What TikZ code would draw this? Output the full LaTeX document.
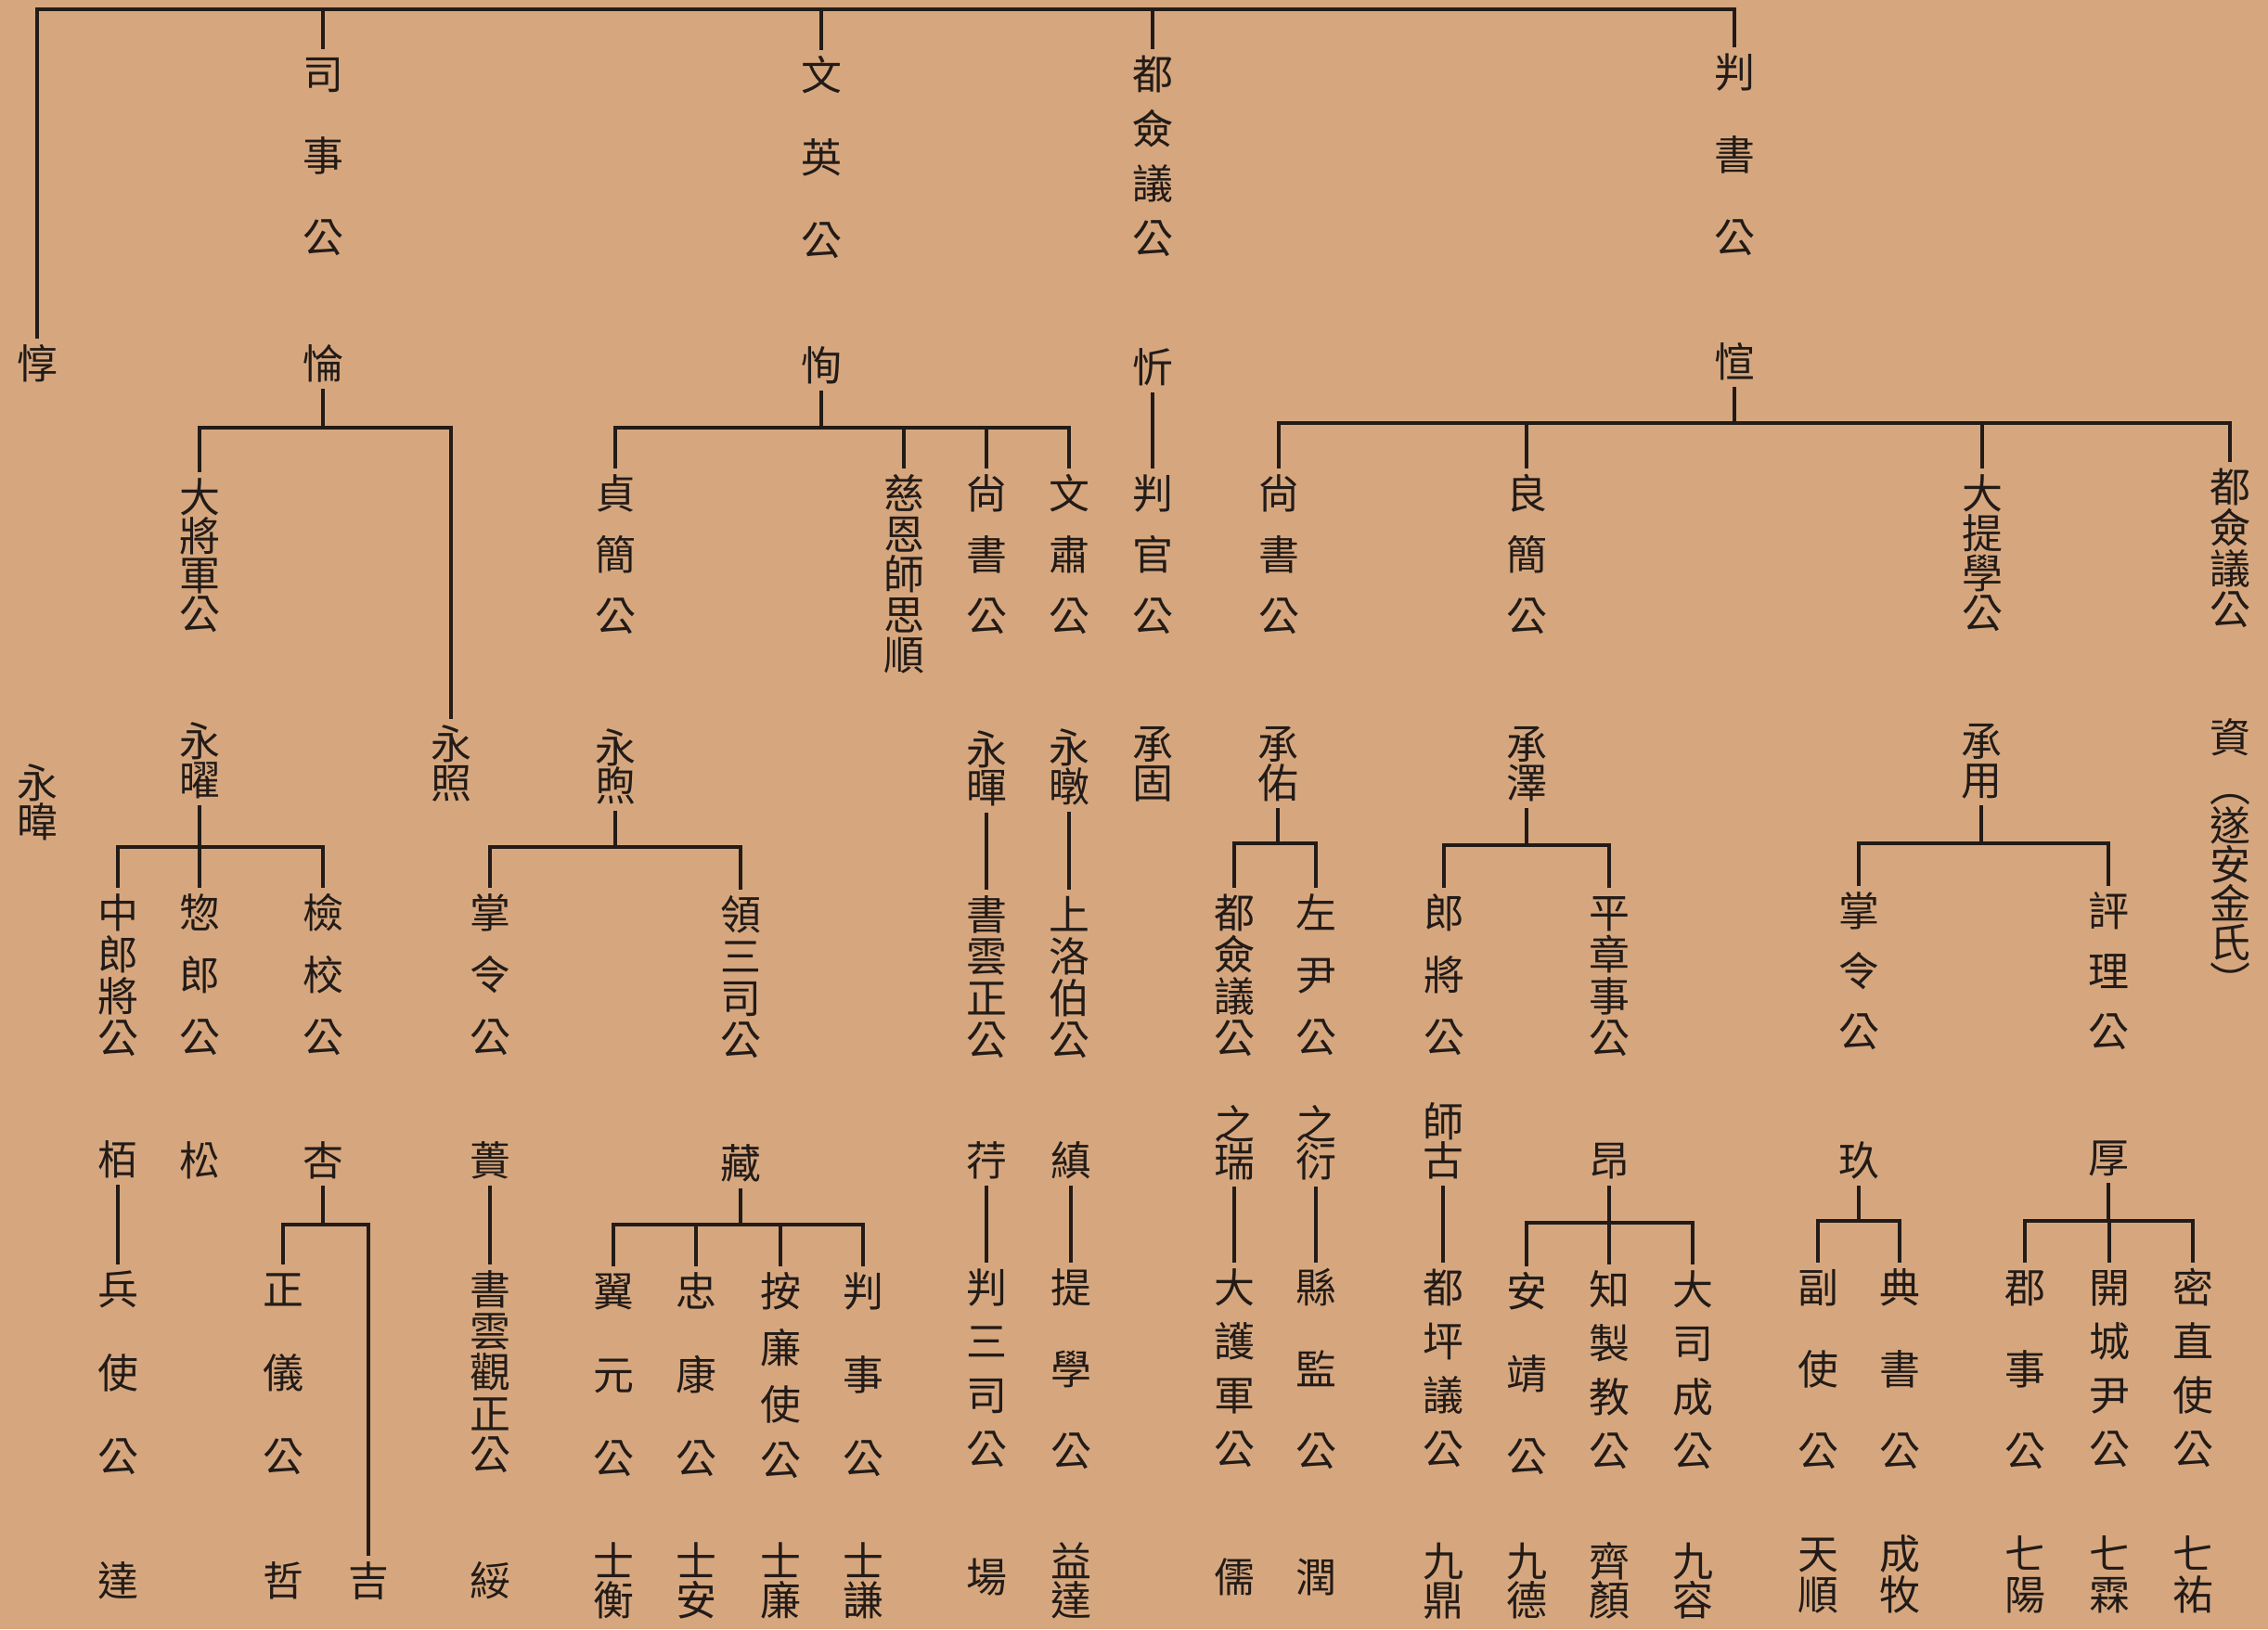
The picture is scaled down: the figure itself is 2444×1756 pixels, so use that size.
\documentclass[tikz,border=0pt]{standalone}
\usepackage{fontspec}
\newfontfamily\cjk{Noto Sans CJK TC}
\usetikzlibrary{fit}
\definecolor{paper}{RGB}{214,167,126}
\definecolor{ink}{RGB}{34,27,24}
\tikzset{
  ch/.style={inner sep=0pt, text=ink, font=\cjk\fontsize{25pt}{25pt}\selectfont, text height=22pt, text depth=3pt},
  fitbox/.style={inner sep=0pt},
  ln/.style={draw=ink, line width=1.8pt},
  sfrom/.style={shorten <=2.5pt},
  sto/.style={shorten >=2.5pt}
}
% name, x, y of first character, step, number of characters, characters
\newcommand\vn[6]{%
  \foreach \chr [count=\k] in {#6} {\node[ch] (#1-\k) at (#2,{#3+(\k-1)*(#4)}) {\chr};}%
  \node[fitbox, fit=(#1-1)(#1-#5)] (#1) {};%
}
\begin{document}
\begin{tikzpicture}[x=0.2mm, y=-0.2mm]
\useasboundingbox (0,0) rectangle (2444,1756);
\fill[paper] (0,0) rectangle (2444,1756);

% ---------- generation 1
\vn{a0}{40}{392}{0}{1}{惇}
\vn{s1}{348}{80}{88}{3}{司,事,公}
\vn{s1n}{348}{392}{0}{1}{惀}
\vn{w1}{885}{81}{89}{3}{文,英,公}
\vn{w1n}{885}{394}{0}{1}{恂}
\vn{d1}{1242}{80}{59}{4}{都,僉,議,公}
\vn{d1n}{1242}{396}{0}{1}{忻}
\vn{p1}{1869}{78}{89}{3}{判,書,公}
\vn{p1n}{1869}{390}{0}{1}{愃}

% ---------- generation 2
\vn{b1}{215}{536}{42}{4}{大,將,軍,公}
\vn{b1n}{215}{799}{42}{2}{永,曜}
\vn{b2n}{486}{802}{42}{2}{永,照}
\vn{a0n}{40}{844}{42}{2}{永,暐}
\vn{c1}{663}{532}{66}{3}{貞,簡,公}
\vn{c1n}{663}{806}{41}{2}{永,煦}
\vn{c2}{974}{532}{43.5}{5}{慈,恩,師,思,順}
\vn{c3}{1063}{532}{66}{3}{尙,書,公}
\vn{c3n}{1063}{808}{41}{2}{永,暉}
\vn{c4}{1152}{532}{66}{3}{文,肅,公}
\vn{c4n}{1152}{806}{42}{2}{永,暾}
\vn{e1}{1242}{532}{66}{3}{判,官,公}
\vn{e1n}{1242}{802}{42}{2}{承,固}
\vn{f1}{1378}{532}{66}{3}{尙,書,公}
\vn{f1n}{1377}{802}{42}{2}{承,佑}
\vn{f2}{1645}{532}{66}{3}{良,簡,公}
\vn{f2n}{1645}{802}{42}{2}{承,澤}
\vn{f3}{2136}{532}{43}{4}{大,提,學,公}
\vn{f3n}{2135}{799}{42}{2}{承,用}
\vn{f4}{2403}{525}{44}{4}{都,僉,議,公}
\vn{f4n}{2403}{795}{0}{1}{資}
\vn{f4x}{2403}{848}{42}{6}{︵,遂,安,金,氏,︶}

% ---------- generation 3
\vn{g1}{127}{984}{45}{4}{中,郎,將,公}
\vn{g2}{215}{984}{67}{3}{惣,郎,公}
\vn{g3}{348}{984}{67}{3}{檢,校,公}
\vn{g1n}{127}{1250}{0}{1}{栢}
\vn{g2n}{215}{1251}{0}{1}{松}
\vn{g3n}{348}{1251}{0}{1}{杏}
\vn{h1}{528}{984}{67}{3}{掌,令,公}
\vn{h2}{798}{986}{45}{4}{領,三,司,公}
\vn{h1n}{528}{1251}{0}{1}{蕢}
\vn{h2n}{798}{1254}{0}{1}{藏}
\vn{i1}{1063}{986}{45}{4}{書,雲,正,公}
\vn{i1n}{1063}{1251}{0}{1}{荇}
\vn{j1}{1152}{986}{45}{4}{上,洛,伯,公}
\vn{j1n}{1154}{1251}{0}{1}{縝}
\vn{k1}{1330}{984}{45}{4}{都,僉,議,公}
\vn{k2}{1418}{984}{67}{3}{左,尹,公}
\vn{k1n}{1330}{1212}{40}{2}{之,瑞}
\vn{k2n}{1418}{1212}{40}{2}{之,衍}
\vn{l1}{1556}{984}{67}{3}{郎,將,公}
\vn{l2}{1734}{984}{45}{4}{平,章,事,公}
\vn{l1n}{1555}{1209}{42}{2}{師,古}
\vn{l2n}{1734}{1251}{0}{1}{昂}
\vn{m1}{2003}{982}{65}{3}{掌,令,公}
\vn{m2}{2272}{982}{65}{3}{評,理,公}
\vn{m1n}{2003}{1251}{0}{1}{玖}
\vn{m2n}{2272}{1248}{0}{1}{厚}

% ---------- generation 4
\vn{n1}{127}{1390}{90}{3}{兵,使,公}
\vn{n1n}{127}{1704}{0}{1}{達}
\vn{n2}{305}{1390}{90}{3}{正,儀,公}
\vn{n2n}{305}{1704}{0}{1}{哲}
\vn{n3}{397}{1704}{0}{1}{吉}
\vn{n4}{528}{1390}{44.5}{5}{書,雲,觀,正,公}
\vn{n4n}{528}{1704}{0}{1}{綏}
\vn{o1}{661}{1392}{90}{3}{翼,元,公}
\vn{o1n}{661}{1683}{42}{2}{士,衡}
\vn{o2}{750}{1392}{90}{3}{忠,康,公}
\vn{o2n}{750}{1683}{42}{2}{士,安}
\vn{o3}{841}{1392}{60.7}{4}{按,廉,使,公}
\vn{o3n}{841}{1683}{42}{2}{士,廉}
\vn{o4}{930}{1392}{90}{3}{判,事,公}
\vn{o4n}{930}{1683}{42}{2}{士,謙}
\vn{q1}{1063}{1388}{58}{4}{判,三,司,公}
\vn{q1n}{1063}{1700}{0}{1}{場}
\vn{q2}{1154}{1388}{88}{3}{提,學,公}
\vn{q2n}{1154}{1683}{42}{2}{益,達}
\vn{r1}{1330}{1388}{58}{4}{大,護,軍,公}
\vn{r1n}{1330}{1700}{0}{1}{儒}
\vn{r2}{1418}{1388}{88}{3}{縣,監,公}
\vn{r2n}{1418}{1700}{0}{1}{潤}
\vn{r3}{1555}{1388}{58}{4}{都,坪,議,公}
\vn{r3n}{1555}{1683}{42}{2}{九,鼎}
\vn{t1}{1645}{1392}{89}{3}{安,靖,公}
\vn{t1n}{1645}{1683}{42}{2}{九,德}
\vn{t2}{1734}{1390}{58}{4}{知,製,教,公}
\vn{t2n}{1734}{1683}{42}{2}{齊,顏}
\vn{t3}{1824}{1390}{58}{4}{大,司,成,公}
\vn{t3n}{1824}{1683}{42}{2}{九,容}
\vn{u1}{1959}{1388}{88}{3}{副,使,公}
\vn{u1n}{1959}{1675}{44}{2}{天,順}
\vn{u2}{2047}{1388}{88}{3}{典,書,公}
\vn{u2n}{2047}{1675}{44}{2}{成,牧}
\vn{v1}{2182}{1388}{88}{3}{郡,事,公}
\vn{v1n}{2182}{1675}{44}{2}{七,陽}
\vn{v2}{2273}{1388}{58}{4}{開,城,尹,公}
\vn{v2n}{2273}{1675}{44}{2}{七,霖}
\vn{v3}{2363}{1388}{58}{4}{密,直,使,公}
\vn{v3n}{2363}{1675}{44}{2}{七,祐}

% ---------- bracket levels
\coordinate (Ytop) at (0,10);
\coordinate (Ys) at (0,461);
\coordinate (Yw) at (0,461);
\coordinate (Yp) at (0,456);
\coordinate (Yb) at (0,913);
\coordinate (Yc) at (0,913);
\coordinate (Yf1) at (0,909);
\coordinate (Yf2) at (0,911);
\coordinate (Yf3) at (0,909);
\coordinate (Yg) at (0,1320);
\coordinate (Yh) at (0,1320);
\coordinate (Yl) at (0,1318);
\coordinate (Ym1) at (0,1316);
\coordinate (Ym2) at (0,1316);

% ---------- connectors
% top line
\draw[ln,sfrom,sto] (a0.north) |- (p1.north |- Ytop) -- (p1.north);
\foreach \n in {s1,w1,d1} \draw[ln,sto] (\n.north |- Ytop) -- (\n.north);
% 惀
\draw[ln,sfrom] (s1n.south) -- (s1n.south |- Ys);
\draw[ln,sfrom,sto] (b1.north) |- (b2n.north |- Ys) -- (b2n.north);
% 恂
\draw[ln,sfrom] (w1n.south) -- (w1n.south |- Yw);
\draw[ln,sfrom,sto] (c1.north) |- (c4.north |- Yw) -- (c4.north);
\foreach \n in {c2,c3} \draw[ln,sto] (\n.north |- Yw) -- (\n.north);
% 忻
\draw[ln,sfrom,sto] (d1n.south) -- (e1.north);
% 愃
\draw[ln,sfrom] (p1n.south) -- (p1n.south |- Yp);
\draw[ln,sfrom,sto] (f1.north) |- (f4.north |- Yp) -- (f4.north);
\foreach \n in {f2,f3} \draw[ln,sto] (\n.north |- Yp) -- (\n.north);
% 永曜
\draw[ln,sfrom] (b1n.south) -- (b1n.south |- Yb);
\draw[ln,sfrom,sto] (g1.north) |- (g3.north |- Yb) -- (g3.north);
\draw[ln,sto] (g2.north |- Yb) -- (g2.north);
% 永煦
\draw[ln,sfrom] (c1n.south) -- (c1n.south |- Yc);
\draw[ln,sfrom,sto] (h1.north) |- (h2.north |- Yc) -- (h2.north);
% 永暉, 永暾
\draw[ln,sfrom,sto] (c3n.south) -- (i1.north);
\draw[ln,sfrom,sto] (c4n.south) -- (j1.north);
% 承佑
\draw[ln,sfrom] (f1n.south) -- (f1n.south |- Yf1);
\draw[ln,sfrom,sto] (k1.north) |- (k2.north |- Yf1) -- (k2.north);
% 承澤
\draw[ln,sfrom] (f2n.south) -- (f2n.south |- Yf2);
\draw[ln,sfrom,sto] (l1.north) |- (l2.north |- Yf2) -- (l2.north);
% 承用
\draw[ln,sfrom] (f3n.south) -- (f3n.south |- Yf3);
\draw[ln,sfrom,sto] (m1.north) |- (m2.north |- Yf3) -- (m2.north);
% 栢
\draw[ln,sfrom,sto] (g1n.south) -- (n1.north);
% 杏
\draw[ln,sfrom] (g3n.south) -- (g3n.south |- Yg);
\draw[ln,sfrom,sto] (n2.north) |- (n3.north |- Yg) -- (n3.north);
% 蕢
\draw[ln,sfrom,sto] (h1n.south) -- (n4.north);
% 藏
\draw[ln,sfrom] (h2n.south) -- (h2n.south |- Yh);
\draw[ln,sfrom,sto] (o1.north) |- (o4.north |- Yh) -- (o4.north);
\foreach \n in {o2,o3} \draw[ln,sto] (\n.north |- Yh) -- (\n.north);
% 荇, 縝, 之瑞, 之衍, 師古
\draw[ln,sfrom,sto] (i1n.south) -- (q1.north);
\draw[ln,sfrom,sto] (j1n.south) -- (q2.north);
\draw[ln,sfrom,sto] (k1n.south) -- (r1.north);
\draw[ln,sfrom,sto] (k2n.south) -- (r2.north);
\draw[ln,sfrom,sto] (l1n.south) -- (r3.north);
% 昂
\draw[ln,sfrom] (l2n.south) -- (l2n.south |- Yl);
\draw[ln,sfrom,sto] (t1.north) |- (t3.north |- Yl) -- (t3.north);
\draw[ln,sto] (t2.north |- Yl) -- (t2.north);
% 玖
\draw[ln,sfrom] (m1n.south) -- (m1n.south |- Ym1);
\draw[ln,sfrom,sto] (u1.north) |- (u2.north |- Ym1) -- (u2.north);
% 厚
\draw[ln,sfrom] (m2n.south) -- (m2n.south |- Ym2);
\draw[ln,sfrom,sto] (v1.north) |- (v3.north |- Ym2) -- (v3.north);
\draw[ln,sto] (v2.north |- Ym2) -- (v2.north);
\end{tikzpicture}
\end{document}
